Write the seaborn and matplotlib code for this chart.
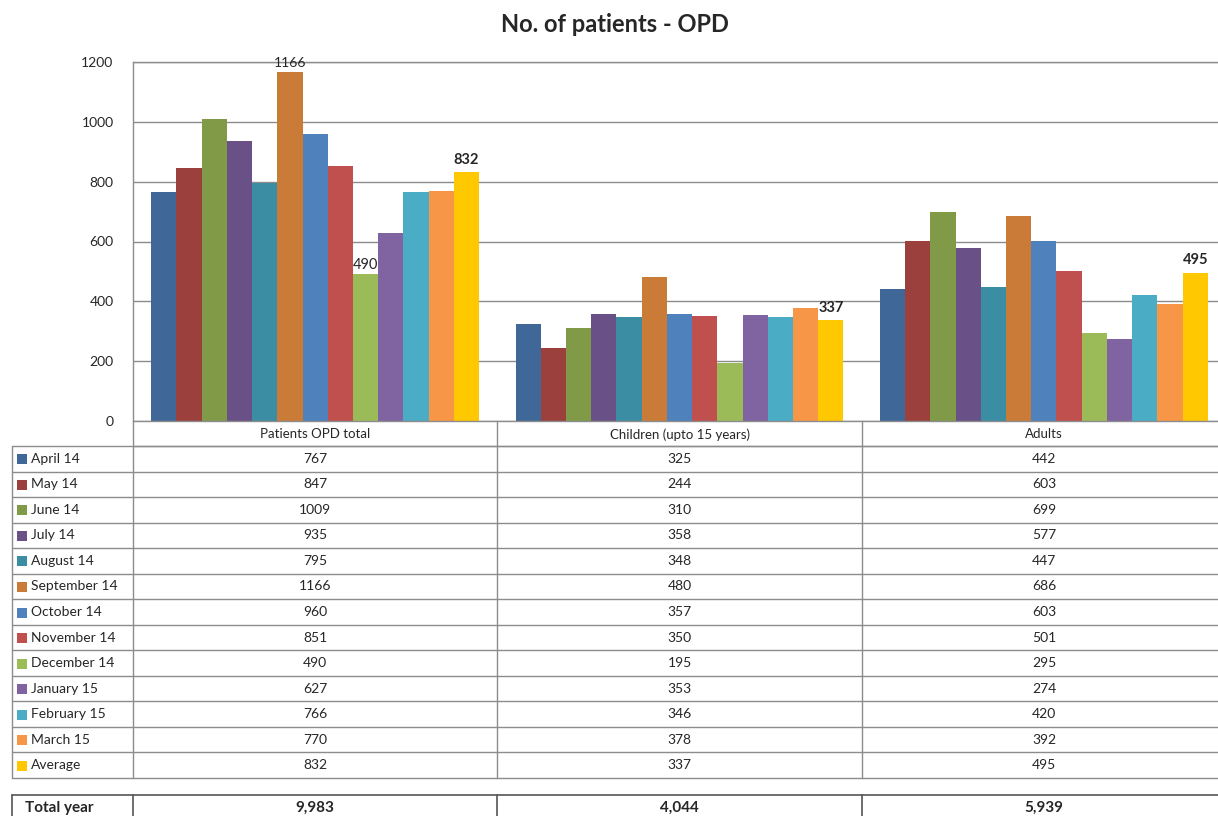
import numpy as np
import pandas as pd
import matplotlib
matplotlib.use("Agg")
import matplotlib.pyplot as plt
import seaborn as sns

# ---------------------------------------------
# data
# ---------------------------------------------
categories = ["Patients OPD total", "Children (upto 15 years)", "Adults"]
months = ["April 14", "May 14", "June 14", "July 14", "August 14", "September 14",
          "October 14", "November 14", "December 14", "January 15", "February 15",
          "March 15", "Average"]
opd_total = [767, 847, 1009, 935, 795, 1166, 960, 851, 490, 627, 766, 770, 832]
children = [325, 244, 310, 358, 348, 480, 357, 350, 195, 353, 346, 378, 337]
adults = [442, 603, 699, 577, 447, 686, 603, 501, 295, 274, 420, 392, 495]
total_year = ["9,983", "4,044", "5,939"]

colors = ["#3F6899", "#9C403E", "#809A48", "#695086", "#3B8DA3", "#CB7B38",
          "#4F81BD", "#C0504D", "#9BBB59", "#8064A2", "#4BACC6", "#F79646", "#FFC800"]

series = [opd_total, children, adults]
df = pd.DataFrame({
    "category": np.repeat(categories, len(months)),
    "month": months * len(categories),
    "value": np.concatenate(series),
})

# ---------------------------------------------
# figure
# ---------------------------------------------
sns.set_style("white")
plt.rcParams["font.family"] = ["Lato", "DejaVu Sans"]

W, H = 1218, 816
fig = plt.figure(figsize=(W / 100, H / 100), dpi=100)

def px_axes(x0, y0, x1, y1):
    return fig.add_axes([x0 / W, 1 - y1 / H, (x1 - x0) / W, (y1 - y0) / H])

ax = px_axes(133, 62, 1226, 421)
sns.barplot(data=df, x="category", y="value", hue="month", order=categories,
            hue_order=months, palette=colors, width=0.9, linewidth=0,
            saturation=1, legend=False, ax=ax)
ax.set_ylim(0, 1200)
ax.set_yticks(range(0, 1201, 200))
ax.set_xticks([])
ax.set_xlabel("")
ax.set_ylabel("")
ax.yaxis.grid(True, color="#8c8c8c", linewidth=1)
ax.set_axisbelow(True)
ax.tick_params(axis="y", labelsize=10, length=0, pad=14)
for s in ax.spines.values():
    s.set_color("#8c8c8c")
    s.set_linewidth(1)

# value labels
containers = ax.containers
ax.bar_label(containers[5], labels=["1166", "", ""], fontsize=10, padding=2)
ax.bar_label(containers[8], labels=["490", "", ""], fontsize=10.5, padding=2)
ax.bar_label(containers[12], labels=[str(v) for v in
             (opd_total[-1], children[-1], adults[-1])],
             fontsize=10.5, fontweight="bold", padding=4)

fig.suptitle("No. of patients - OPD", x=615 / W, y=1 - 25 / H, va="center",
             fontsize=17, fontweight="bold")

# ---------------------------------------------
# data table below the chart
# ---------------------------------------------
tab = fig.add_axes([0, 0, 1, 1], facecolor="none")
tab.set_xlim(0, W)
tab.set_ylim(H, 0)
tab.axis("off")

grid_c = "#8c8c8c"
col_x = [133, 497, 862, 1226]
head_top, head_bot = 421, 446
row_h = (778 - 446) / len(months)
row_y = [head_bot + i * row_h for i in range(len(months) + 1)]

# header row
for x in col_x:
    tab.plot([x, x], [head_top, row_y[-1]], color=grid_c, lw=1)
tab.plot([133, W], [head_bot, head_bot], color=grid_c, lw=1)
for i, c in enumerate(categories):
    tab.text((col_x[i] + col_x[i + 1]) / 2, (head_top + head_bot) / 2 + 1, c,
             ha="center", va="center", fontsize=9.5)

# body rows
tab.plot([12, 12], [row_y[0], row_y[-1]], color=grid_c, lw=1)
for y in row_y:
    tab.plot([12, W], [y, y], color=grid_c, lw=1)
for r, m in enumerate(months):
    yc = (row_y[r] + row_y[r + 1]) / 2
    tab.add_patch(plt.Rectangle((17, yc - 4.5), 10, 10, color=colors[r], lw=0))
    tab.text(31, yc, m, ha="left", va="center", fontsize=10)
    for i, vals in enumerate(series):
        tab.text((col_x[i] + col_x[i + 1]) / 2, yc, str(vals[r]),
                 ha="center", va="center", fontsize=10)

# total row
tot_top, tot_bot = 795, 830
tab.plot([12, W], [tot_top, tot_top], color="#555555", lw=1.2)
for x in [12, 133, 497, 862]:
    tab.plot([x, x], [tot_top, tot_bot], color="#555555", lw=1.2)
tab.text(25, 808, "Total year", ha="left", va="center", fontsize=11,
         fontweight="bold")
for i, t in enumerate(total_year):
    tab.text((col_x[i] + col_x[i + 1]) / 2, 808, t, ha="center", va="center",
             fontsize=11, fontweight="bold")

fig.savefig("out.png", dpi=100)
